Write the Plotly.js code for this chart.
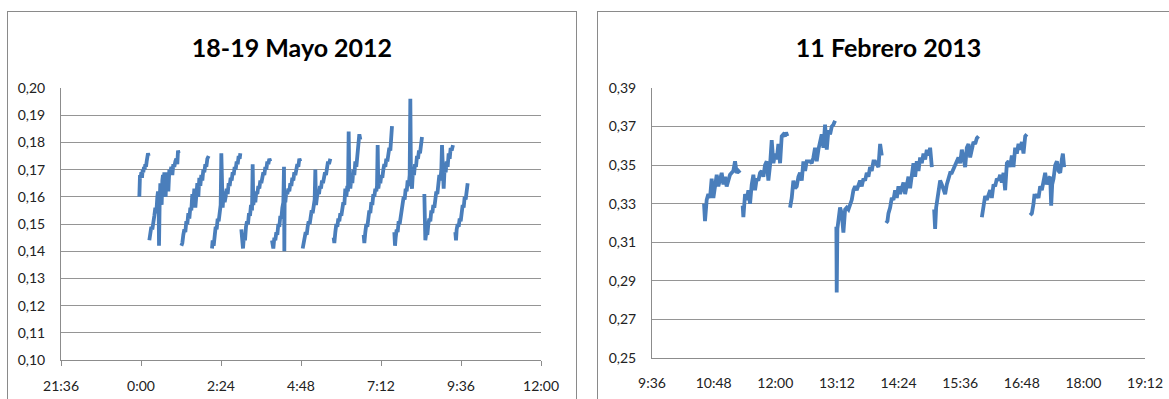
<!DOCTYPE html>
<html>
<head>
<meta charset="utf-8">
<script src="https://cdn.plot.ly/plotly-3.0.1.min.js"></script>
<style>
  html, body { margin:0; padding:0; width:1169px; height:399px; overflow:hidden; background:#ffffff; }
  .frame { position:absolute; border:1px solid #8a8a8a; box-sizing:border-box; background:#fff; }
  .plot { position:absolute; }
</style>
</head>
<body>
<div class="frame" style="left:7px; top:11px; width:570px; height:420px;"></div>
<div class="frame" style="left:597px; top:11px; width:600px; height:420px;"></div>
<div id="mayo" class="plot" style="left:8px; top:12px;"></div>
<div id="feb" class="plot" style="left:598px; top:12px;"></div>
<script>
// ---------- Panel 1: 18-19 Mayo 2012 (hours relative to midnight) ----------
const mayoTitulo = "18-19 Mayo 2012";
const mayoTickVals = [-2.4, 0, 2.4, 4.8, 7.2, 9.6, 12];
const mayoTickText = ["21:36", "0:00", "2:24", "4:48", "7:12", "9:36", "12:00"];
const mayoHoras = [
  -0.05,-0.04,-0.03,-0.01,0.01,0.03,0.05,0.07,0.09,0.11,0.13,0.15,0.17,0.19,0.21,0.23, null,
  0.25,0.28,0.31,0.34,0.37,0.40,0.43,0.46,0.49,0.51,0.53,0.54,0.56,0.58,0.60,0.62,0.64,0.66,0.68,0.70,0.72,0.74,0.76,0.78,0.80,0.82,0.85,0.88,0.91,0.94,0.97,1.00,1.03,1.06,1.09,1.11,1.13, null,
  1.21,1.24,1.27,1.30,1.33,1.36,1.39,1.42,1.45,1.48,1.51,1.54,1.57,1.60,1.63,1.66,1.69,1.72,1.75,1.78,1.81,1.84,1.87,1.90,1.93,1.96,1.99,2.03, null,
  2.13,2.15,2.18,2.21,2.24,2.27,2.30,2.33,2.36,2.39,2.41,2.43,2.45,2.48,2.51,2.54,2.57,2.60,2.63,2.66,2.69,2.72,2.75,2.78,2.81,2.84,2.87,2.90,2.93,2.96,2.98, null,
  3.01,3.04,3.06,3.09,3.12,3.15,3.18,3.21,3.24,3.27,3.30,3.33,3.35,3.37,3.40,3.43,3.46,3.49,3.52,3.55,3.58,3.61,3.64,3.67,3.70,3.73,3.76,3.79,3.82,3.85,3.88, null,
  3.93,3.95,3.97,4.00,4.03,4.06,4.09,4.12,4.15,4.18,4.21,4.24,4.27,4.29,4.30,4.31,4.33,4.36,4.39,4.42,4.45,4.48,4.51,4.54,4.57,4.60,4.63,4.66,4.69,4.72,4.75,4.78, null,
  4.85,4.88,4.91,4.94,4.97,5.00,5.03,5.06,5.09,5.12,5.15,5.18,5.21,5.23,5.25,5.28,5.31,5.34,5.37,5.40,5.43,5.46,5.49,5.52,5.55,5.58,5.61,5.64,5.68, null,
  5.78,5.80,5.83,5.86,5.89,5.92,5.95,5.98,6.01,6.04,6.07,6.10,6.13,6.16,6.19,6.21,6.23,6.25,6.28,6.31,6.34,6.37,6.40,6.43,6.46,6.49,6.52,6.55,6.58, null,
  6.68,6.70,6.73,6.76,6.79,6.82,6.85,6.88,6.91,6.94,6.97,7.00,7.03,7.06,7.08,7.10,7.12,7.15,7.18,7.21,7.24,7.27,7.30,7.33,7.36,7.39,7.42,7.45,7.48,7.51,7.53, null,
  7.60,7.62,7.64,7.67,7.70,7.73,7.76,7.79,7.82,7.85,7.88,7.91,7.94,7.97,8.00,8.03,8.06,8.08,8.10,8.13,8.16,8.19,8.22,8.25,8.28,8.31,8.34,8.37,8.40,8.43, null,
  8.50,8.51,8.53,8.56,8.59,8.62,8.65,8.68,8.71,8.74,8.77,8.80,8.83,8.86,8.89,8.92,8.95,8.98,9.01,9.03,9.05,9.08,9.11,9.14,9.17,9.20,9.23,9.26,9.29,9.32,9.36, null,
  9.43,9.45,9.47,9.50,9.53,9.56,9.59,9.62,9.65,9.68,9.71,9.74,9.77,9.80
];
const mayoValores = [
  0.160,0.166,0.168,0.167,0.169,0.167,0.170,0.169,0.171,0.170,0.172,0.171,0.173,0.174,0.176,0.175, null,
  0.144,0.147,0.149,0.148,0.150,0.153,0.156,0.154,0.160,0.162,0.156,0.142,0.158,0.165,0.160,0.157,0.166,0.168,0.161,0.169,0.163,0.160,0.168,0.166,0.169,0.162,0.170,0.169,0.171,0.168,0.172,0.171,0.173,0.174,0.172,0.177,0.176, null,
  0.142,0.143,0.146,0.148,0.147,0.151,0.150,0.154,0.152,0.156,0.155,0.161,0.158,0.163,0.156,0.162,0.165,0.160,0.167,0.164,0.168,0.166,0.170,0.169,0.172,0.171,0.174,0.175, null,
  0.141,0.144,0.142,0.146,0.149,0.148,0.152,0.151,0.155,0.157,0.176,0.160,0.156,0.162,0.158,0.160,0.163,0.161,0.165,0.164,0.167,0.166,0.169,0.168,0.171,0.170,0.173,0.172,0.175,0.174,0.176, null,
  0.148,0.145,0.141,0.146,0.144,0.149,0.151,0.150,0.154,0.153,0.157,0.155,0.172,0.157,0.160,0.158,0.162,0.161,0.164,0.163,0.166,0.165,0.167,0.169,0.168,0.171,0.170,0.173,0.172,0.174,0.173, null,
  0.144,0.143,0.141,0.145,0.144,0.147,0.146,0.150,0.149,0.153,0.152,0.156,0.158,0.171,0.140,0.160,0.158,0.162,0.161,0.163,0.162,0.165,0.164,0.167,0.166,0.169,0.168,0.170,0.172,0.171,0.174,0.173, null,
  0.141,0.144,0.145,0.147,0.146,0.149,0.151,0.150,0.153,0.155,0.154,0.157,0.159,0.170,0.157,0.160,0.162,0.161,0.164,0.163,0.166,0.165,0.167,0.169,0.168,0.171,0.173,0.172,0.174, null,
  0.145,0.143,0.147,0.150,0.149,0.152,0.151,0.154,0.153,0.156,0.158,0.157,0.163,0.160,0.164,0.162,0.184,0.166,0.163,0.167,0.165,0.170,0.168,0.173,0.171,0.175,0.178,0.183,0.181, null,
  0.146,0.143,0.147,0.150,0.149,0.153,0.155,0.154,0.158,0.157,0.161,0.160,0.163,0.162,0.164,0.179,0.163,0.166,0.165,0.168,0.167,0.170,0.172,0.171,0.174,0.173,0.176,0.178,0.177,0.183,0.186, null,
  0.147,0.142,0.145,0.148,0.147,0.151,0.150,0.153,0.155,0.157,0.160,0.159,0.163,0.162,0.166,0.164,0.168,0.196,0.165,0.163,0.170,0.168,0.172,0.171,0.175,0.174,0.177,0.176,0.179,0.182, null,
  0.161,0.152,0.144,0.147,0.146,0.150,0.152,0.151,0.155,0.154,0.157,0.156,0.160,0.162,0.161,0.165,0.168,0.166,0.170,0.179,0.167,0.163,0.171,0.169,0.173,0.171,0.176,0.174,0.178,0.177,0.179, null,
  0.147,0.144,0.148,0.150,0.149,0.152,0.151,0.155,0.157,0.156,0.160,0.159,0.163,0.165
];

// ---------- Panel 2: 11 Febrero 2013 (hours of day) ----------
const febTitulo = "11 Febrero 2013";
const febTickVals = [9.6, 10.8, 12, 13.2, 14.4, 15.6, 16.8, 18, 19.2];
const febTickText = ["9:36", "10:48", "12:00", "13:12", "14:24", "15:36", "16:48", "18:00", "19:12"];
const febHoras = [
  10.613,10.632,10.665,10.697,10.730,10.762,10.795,10.827,10.860,10.892,10.925,10.957,10.990,11.022,11.054,11.087,11.119,11.152,11.184,11.217,11.249,11.282,11.314, null,
  11.366,11.379,11.412,11.444,11.477,11.509,11.542,11.574,11.606,11.639,11.671,11.704,11.736,11.769,11.801,11.834,11.866,11.899,11.931,11.964,11.996,12.029,12.061,12.094,12.126,12.158,12.191,12.210,12.236, null,
  12.288,12.321,12.353,12.386,12.418,12.451,12.483,12.516,12.548,12.581,12.613,12.645,12.678,12.710,12.743,12.775,12.808,12.840,12.873,12.905,12.938,12.970,13.003,13.035,13.068,13.100,13.132,13.165, null,
  13.190,13.197,13.210,13.230,13.262,13.295,13.327,13.360,13.392,13.425,13.457,13.490,13.522,13.555,13.587,13.619,13.652,13.684,13.717,13.749,13.782,13.814,13.847,13.879,13.912,13.944,13.977,14.009,14.042,14.074, null,
  14.159,14.185,14.204,14.237,14.269,14.302,14.334,14.367,14.399,14.432,14.464,14.497,14.529,14.561,14.594,14.626,14.659,14.691,14.724,14.756,14.789,14.821,14.854,14.886,14.919,14.951,14.984,15.016,15.049, null,
  15.094,15.113,15.133,15.159,15.178,15.211,15.243,15.276,15.308,15.341,15.373,15.406,15.438,15.471,15.503,15.535,15.568,15.600,15.633,15.665,15.698,15.730,15.763,15.795,15.828,15.860,15.893,15.925,15.958, null,
  16.023,16.042,16.068,16.087,16.120,16.152,16.185,16.217,16.250,16.282,16.315,16.347,16.380,16.412,16.445,16.477,16.510,16.542,16.574,16.607,16.639,16.672,16.704,16.737,16.769,16.802,16.834,16.867,16.899, null,
  16.964,16.997,17.029,17.049,17.074,17.094,17.126,17.159,17.191,17.224,17.256,17.289,17.321,17.354,17.373,17.393,17.419,17.451,17.484,17.516,17.549,17.581,17.601,17.626
];
const febValores = [
  0.330,0.321,0.332,0.335,0.333,0.343,0.333,0.339,0.345,0.339,0.342,0.346,0.340,0.344,0.339,0.342,0.345,0.346,0.347,0.352,0.346,0.347,0.346, null,
  0.329,0.323,0.335,0.332,0.337,0.330,0.340,0.345,0.337,0.343,0.342,0.346,0.347,0.344,0.350,0.352,0.342,0.350,0.363,0.351,0.356,0.353,0.361,0.351,0.365,0.366,0.365,0.367,0.365, null,
  0.328,0.333,0.342,0.338,0.339,0.344,0.346,0.342,0.352,0.347,0.352,0.352,0.352,0.351,0.354,0.359,0.352,0.358,0.362,0.366,0.359,0.371,0.358,0.368,0.366,0.370,0.371,0.373, null,
  0.318,0.284,0.317,0.323,0.328,0.325,0.315,0.327,0.328,0.327,0.330,0.332,0.337,0.339,0.337,0.340,0.342,0.339,0.343,0.342,0.346,0.344,0.349,0.347,0.352,0.352,0.350,0.349,0.361,0.355, null,
  0.320,0.321,0.325,0.328,0.333,0.332,0.337,0.333,0.339,0.335,0.338,0.341,0.335,0.340,0.344,0.338,0.346,0.351,0.344,0.352,0.347,0.354,0.351,0.356,0.353,0.358,0.355,0.359,0.349, null,
  0.327,0.317,0.328,0.333,0.337,0.342,0.340,0.338,0.335,0.340,0.344,0.346,0.346,0.348,0.349,0.352,0.354,0.351,0.358,0.354,0.349,0.359,0.361,0.354,0.359,0.362,0.361,0.364,0.365, null,
  0.323,0.327,0.330,0.334,0.332,0.335,0.337,0.333,0.340,0.339,0.343,0.342,0.345,0.341,0.346,0.337,0.351,0.352,0.349,0.355,0.349,0.359,0.356,0.361,0.358,0.362,0.356,0.365,0.366, null,
  0.324,0.325,0.330,0.335,0.333,0.335,0.333,0.339,0.337,0.342,0.346,0.340,0.343,0.344,0.329,0.340,0.343,0.350,0.352,0.347,0.346,0.353,0.356,0.349
];

const lineColor = "#4a7ebb";
const gridColor = "#959595";
const axisColor = "#8c8c8c";
const fontFam = "Lato, 'Open Sans', sans-serif";

function makeLayout(title, width, margin, xRange, tickVals, tickText, yRange, dtick, crossTicks, xStandoff) {
  const lay = {
    width: width, height: 400,
    margin: margin,
    paper_bgcolor: "rgba(0,0,0,0)",
    plot_bgcolor: "#ffffff",
    separators: ",.",
    showlegend: false,
    title: {text: title, x: 0.5, xref: "container", xanchor: "center",
            y: 0.91, yref: "container", yanchor: "middle",
            font: {family: fontFam, size: 25, color: "#000000", weight: 700}},
    font: {family: fontFam, size: 14, color: "#222222"},
    xaxis: {
      range: xRange, tickmode: "array", tickvals: tickVals, ticktext: tickText,
      showgrid: false, zeroline: false, showline: true, linecolor: axisColor, linewidth: 1,
      ticks: crossTicks ? "outside" : "", ticklen: 5, tickcolor: axisColor,
      ticklabelstandoff: xStandoff, tickfont: {family: fontFam, size: 14, color: "#222222"},
      fixedrange: true
    },
    yaxis: {
      range: yRange, tick0: yRange[0], dtick: dtick, tickformat: ".2f",
      showgrid: true, gridcolor: gridColor, gridwidth: 1, zeroline: false,
      showline: true, linecolor: axisColor, linewidth: 1, ticks: "",
      ticklabelstandoff: 12, tickfont: {family: fontFam, size: 14, color: "#222222"},
      fixedrange: true
    }
  };
  if (crossTicks) {
    lay.xaxis2 = {
      overlaying: "x", anchor: "y", side: "bottom", range: xRange,
      tickmode: "array", tickvals: tickVals, showticklabels: false,
      showgrid: false, zeroline: false, showline: false,
      ticks: "inside", ticklen: 5, tickcolor: axisColor, fixedrange: true
    };
  }
  return lay;
}

const trazaMayo = {x: mayoHoras, y: mayoValores, type: "scatter", mode: "lines",
  connectgaps: false, line: {color: lineColor, width: 3.8}, hoverinfo: "skip"};
const trazaFeb = {x: febHoras, y: febValores, type: "scatter", mode: "lines",
  connectgaps: false, line: {color: lineColor, width: 3.8}, hoverinfo: "skip"};

Plotly.newPlot("mayo", [trazaMayo],
  makeLayout(mayoTitulo, 568, {l: 53, r: 35, t: 76, b: 52}, [-2.4, 12], mayoTickVals, mayoTickText, [0.10, 0.20], 0.01, true, 8),
  {staticPlot: true, displayModeBar: false});

Plotly.newPlot("feb", [trazaFeb],
  makeLayout(febTitulo, 581, {l: 54, r: 34, t: 76, b: 54}, [9.6, 19.2], febTickVals, febTickText, [0.25, 0.39], 0.02, false, 12),
  {staticPlot: true, displayModeBar: false});
</script>
</body>
</html>
